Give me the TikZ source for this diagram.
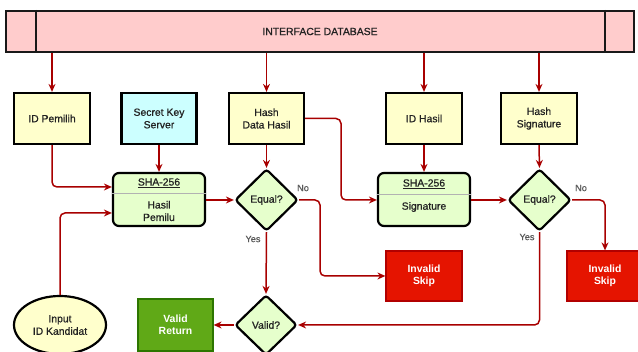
\documentclass[tikz,border=0pt]{standalone}
\usepackage{fontspec}
\setmainfont{Liberation Sans}[RawFeature={embolden=0.8}]
\newfontface\boldface{Liberation Sans Bold}
\usetikzlibrary{arrows.meta,shapes.geometric}
\definecolor{pinkf}{HTML}{FFCCCC}
\definecolor{yelf}{HTML}{FFFFCC}
\definecolor{cyanf}{HTML}{CCFFFF}
\definecolor{lgreen}{HTML}{E6FFCC}
\definecolor{redf}{HTML}{E51400}
\definecolor{redd}{HTML}{B20000}
\definecolor{greenf}{HTML}{60A917}
\definecolor{greend}{HTML}{2D7600}
\definecolor{conncol}{HTML}{A80000}
\definecolor{txt}{HTML}{222222}
\begin{document}
\begin{tikzpicture}[x=1pt,y=-1pt,
  every node/.style={font=\fontsize{10.4}{12.5}\selectfont, text=txt},
  box/.style={draw=black, line width=2.2pt, fill=yelf, minimum width=76pt, minimum height=51pt, align=center, inner sep=0pt},
  shabox/.style={draw=black, line width=2.2pt, fill=lgreen, rounded corners=6pt, minimum width=92pt, minimum height=53pt, inner sep=0pt},
  dec/.style={draw=black, line width=2.2pt, fill=lgreen, diamond, rounded corners=3pt, inner sep=0pt, minimum width=63pt, minimum height=62pt},
  errbox/.style={draw=redd, line width=1.2pt, fill=redf, minimum width=76pt, minimum height=50pt, align=center, inner sep=0pt, font=\fontsize{10.4}{12.5}\boldface, text=white},
  okbox/.style={draw=greend, line width=1.2pt, fill=greenf, minimum width=75pt, minimum height=52pt, align=center, inner sep=0pt, font=\fontsize{10.4}{12.5}\boldface, text=white},
  conn/.style={draw=conncol, line width=1.5pt, rounded corners=5pt, -{Stealth[length=8pt,width=7pt]}},
  lbl/.style={font=\fontsize{9.2}{10}\selectfont, text=black!65}
]
\useasboundingbox (0,0) rectangle (638,352);

% database bar
\node[draw=black!90, line width=2.2pt, fill=pinkf, minimum width=628pt, minimum height=41pt, inner sep=0pt] (db) at (320,31.5) {INTERFACE DATABASE};
\draw[black!90, line width=2.2pt] (36,0 |- db.north) -- (36,0 |- db.south);
\draw[black!90, line width=2.2pt] (605,0 |- db.north) -- (605,0 |- db.south);

% top row
\node[box] (pemilih) at (52,118.5) {ID Pemilih};
\node[box, fill=cyanf, minimum width=75pt] (secret) at (159,118.5) {Secret Key\\Server};
\node[box, minimum width=75pt] (hashdata) at (266.5,118.5) {Hash\\Data Hasil};
\node[box] (idhasil) at (424,118.5) {ID Hasil};
\node[box] (hashsig) at (539,118.5) {Hash\\Signature};

% SHA boxes
\node[shabox] (sha1) at (159,199.5) {};
\draw[black!30, line width=0.9pt] (sha1.west |- 0,193.5) -- (sha1.east |- 0,193.5);
\node (sha1t) at (159,183) {\underline{SHA-256}};
\node[align=center] (sha1b) at (159,211) {Hasil\\Pemilu};

\node[shabox] (sha2) at (424,199.5) {};
\draw[black!30, line width=0.9pt] (sha2.west |- 0,194.5) -- (sha2.east |- 0,194.5);
\node (sha2t) at (424,184) {\underline{SHA-256}};
\node (sha2b) at (424,207) {Signature};

% decisions
\node[dec] (eq1) at (266.5,200) {Equal?};
\node[dec] (eq2) at (539.5,200) {Equal?};
\node[dec, minimum width=62pt, minimum height=60pt] (valid) at (266,325) {Valid?};

% results
\node[errbox] (skip1) at (424,276) {Invalid\\Skip};
\node[errbox] (skip2) at (605,276) {Invalid\\Skip};
\node[okbox] (ret) at (175.5,325) {Valid\\Return};
\node[ellipse, draw=black, line width=2.2pt, fill=yelf, minimum width=92pt, minimum height=58pt, inner sep=0pt, align=center] (input) at (60,325) {Input\\ID Kandidat};

% connectors from the bar
\draw[conn] (pemilih.north |- db.south) -- (pemilih.north);
\draw[conn] (hashdata.north |- db.south) -- (hashdata.north);
\draw[conn] (idhasil.north |- db.south) -- (idhasil.north);
\draw[conn] (hashsig.north |- db.south) -- (hashsig.north);

% other connectors
\draw[conn] (pemilih.south) |- ([yshift=12.5pt]sha1.west);
\draw[conn] (secret.south) -- (sha1.north);
\draw[conn] (input.north) |- ([yshift=-13.5pt]sha1.west);
\draw[conn] (sha1.east |- eq1.west) -- (eq1.west);
\draw[conn] (hashdata.south) -- (eq1.north);
\draw[conn] (hashdata.east) -- (341,0 |- hashdata.east) |- (sha2.west |- eq1.west);
\draw[conn] (eq1.east) -- (320,0 |- eq1.east) |- (skip1.west);
\draw[conn] (eq1.south) -- (valid.north);
\draw[conn] (idhasil.south) -- (sha2.north);
\draw[conn] (sha2.east |- eq2.west) -- (eq2.west);
\draw[conn] (hashsig.south) -- (eq2.north);
\draw[conn] (eq2.east) -| (skip2.north);
\draw[conn] (eq2.south) |- (valid.east);
\draw[conn] (valid.west) -- (ret.east);

% labels
\node[lbl] (no1) at (303,188) {No};
\node[lbl] (no2) at (581,188) {No};
\node[lbl] (yes1) at (253,239) {Yes};
\node[lbl] (yes2) at (527,237) {Yes};
\end{tikzpicture}
\end{document}
